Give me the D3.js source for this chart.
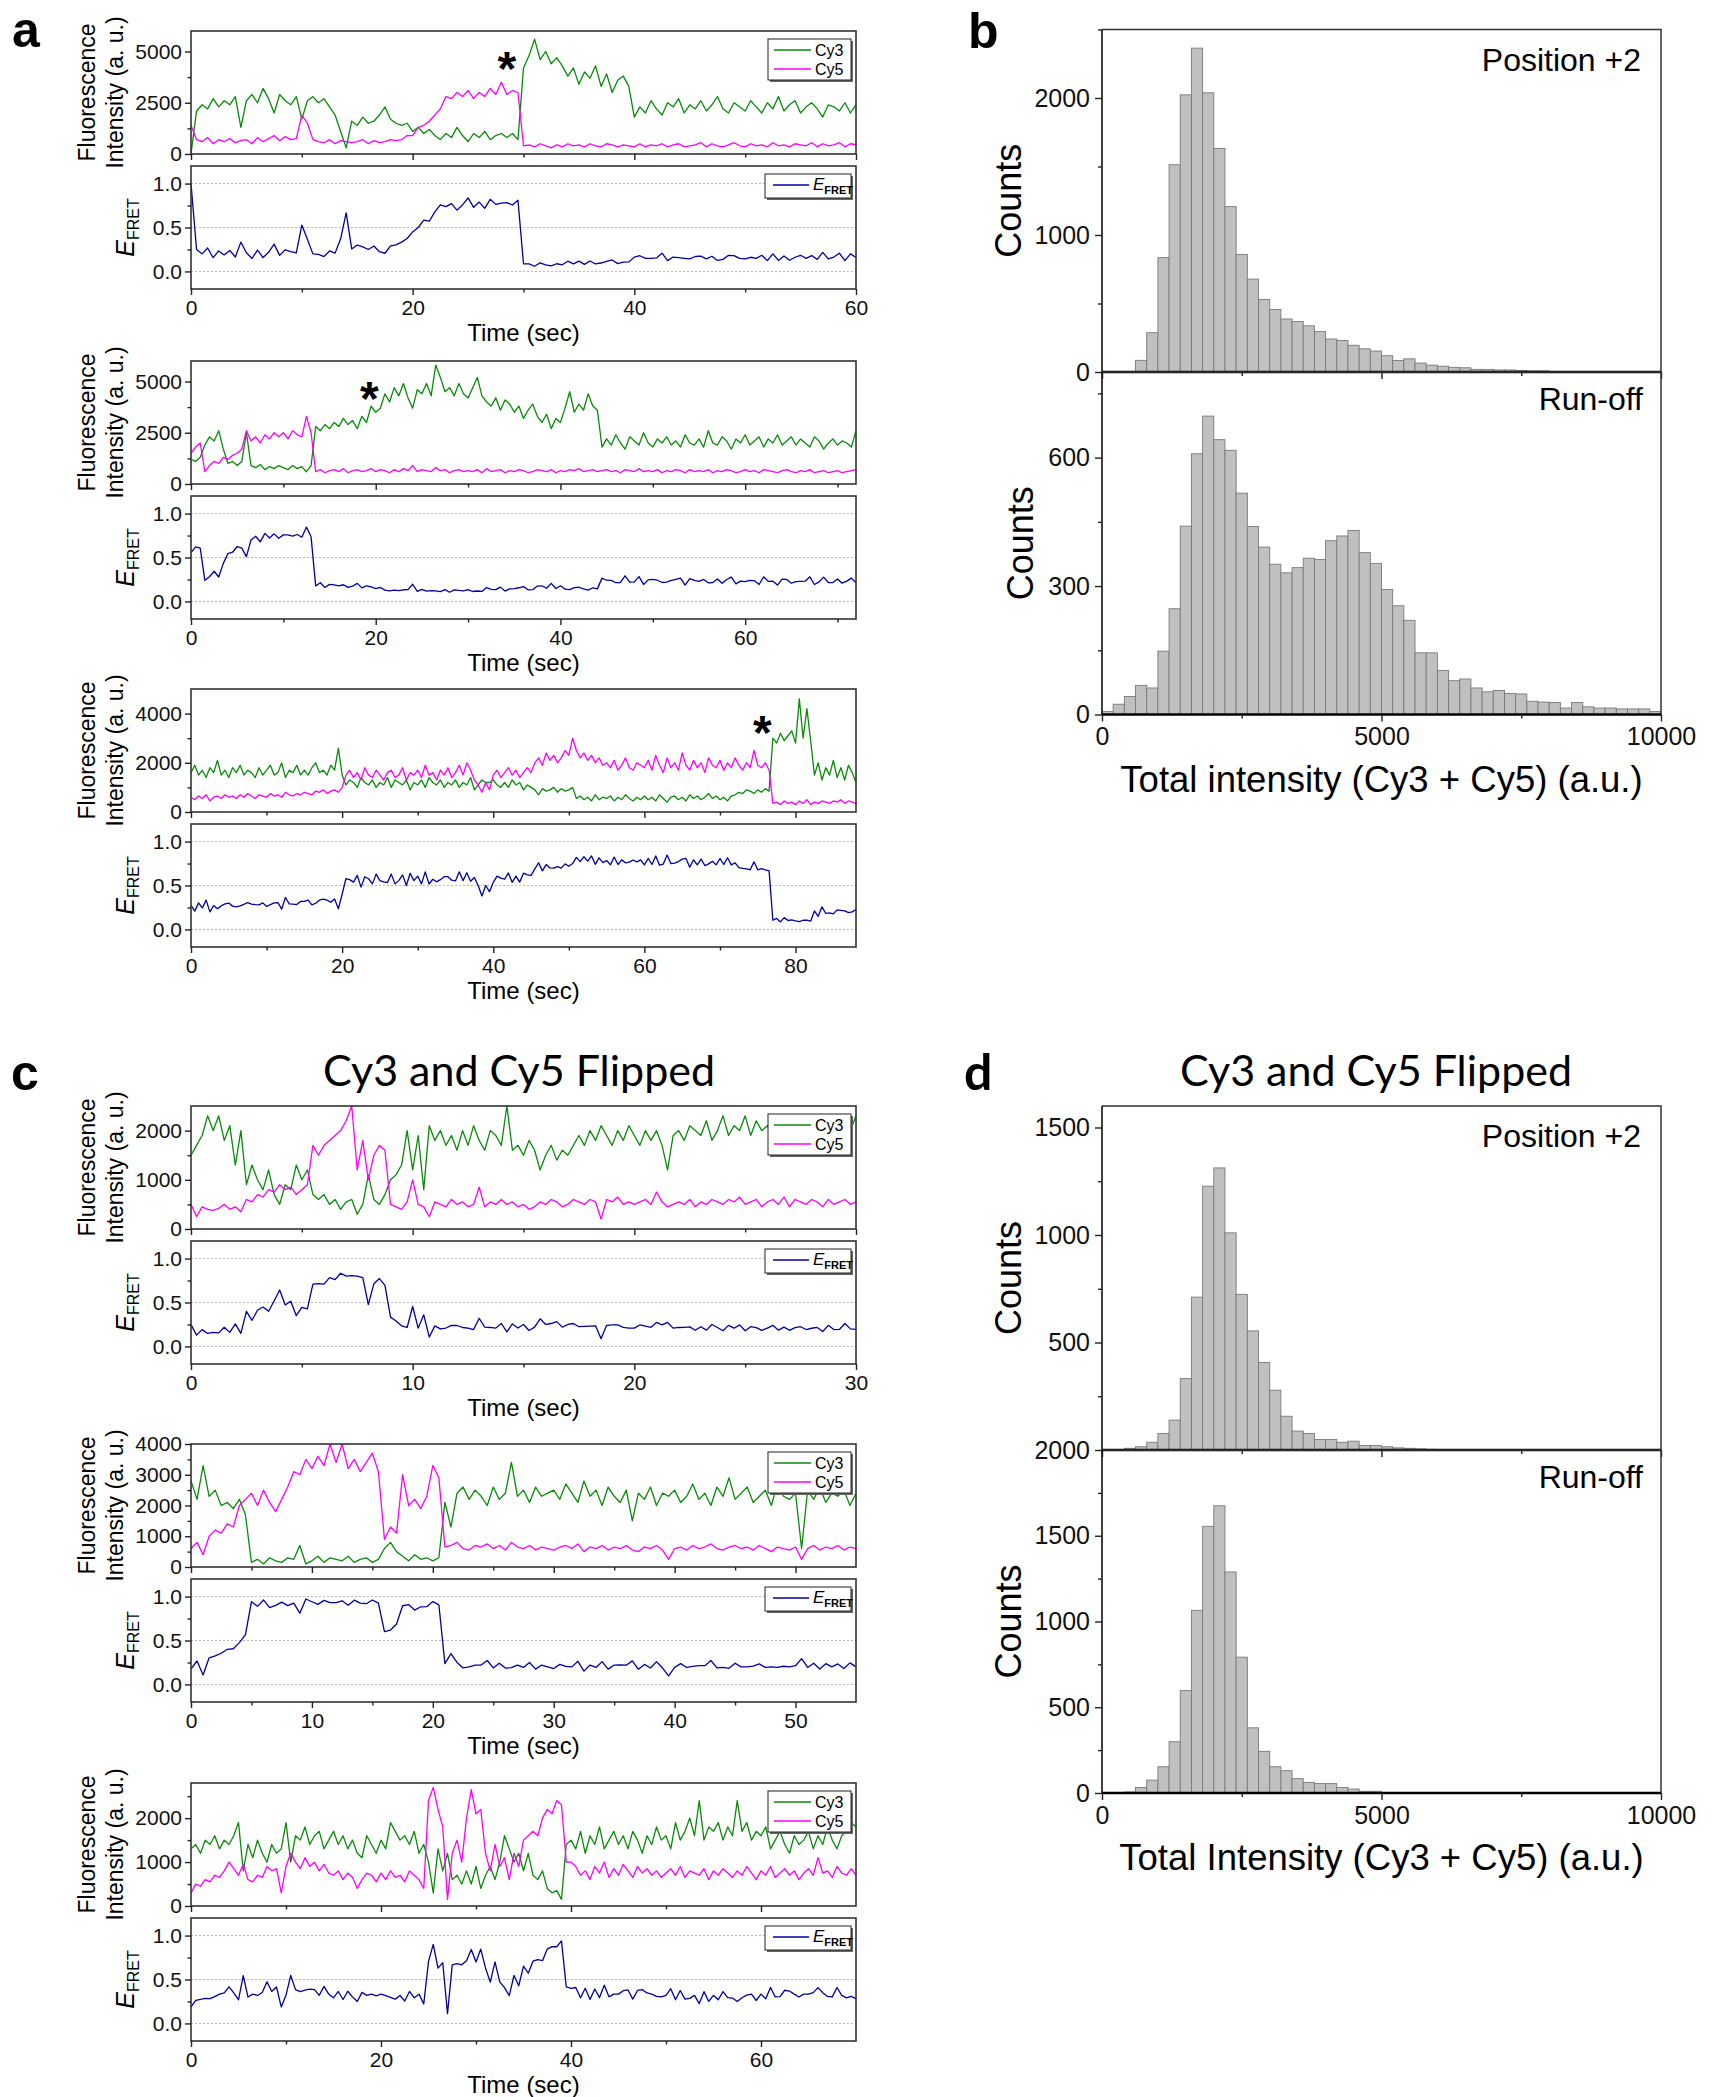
<!DOCTYPE html>
<html>
<head>
<meta charset="utf-8">
<style>
  body { margin: 0; background: #fff; }
  svg { display: block; }
</style>
</head>
<body>
<svg id="fig" width="1715" height="2097"></svg>
<script src="https://cdn.jsdelivr.net/npm/d3@7"></script>
<script>
// ---- single-molecule traces, intensity (a.u.) per frame ----
var a1Step = 0.5;
var a1Cy3 = [0,2100,2400,2200,2700,2300,2600,2400,2800,1300,
  2600,2900,2500,3200,2700,2000,2900,2600,2400,2800,
  1700,2600,2800,2500,2700,2300,1900,1100,300,1600,
  1400,1800,1500,1600,1900,2300,1700,1500,1400,1500,
  1100,1300,1000,1200,900,700,1000,800,1300,900,
  600,1000,800,1100,700,900,1000,800,1000,700,
  4200,4800,5600,4600,5000,4400,4700,4300,3800,4200,
  3400,4000,3700,4300,3300,3900,3000,3600,3800,3300,
  1800,2300,2000,2600,2200,1900,2500,2300,2700,2000,
  2400,2200,2600,2100,2400,2800,2200,2000,2500,2300,
  2100,2600,2300,2000,2500,2200,2800,2100,2400,2600,
  2000,2300,2500,2200,1800,2400,2300,2100,2500,2000,
  2400];
var a1Cy5 = [1400,700,600,800,500,700,600,750,550,650,
  700,500,800,600,750,900,650,850,700,750,
  1900,1500,700,600,550,700,500,650,600,550,
  600,700,500,650,550,600,700,650,700,900,
  900,1300,1400,1600,1900,2200,2800,2700,3000,2800,
  3100,2700,3000,2800,3200,2900,3500,2900,3100,3000,
  400,450,350,500,400,300,450,350,500,400,
  450,350,500,400,350,500,450,350,450,400,
  350,500,350,450,400,500,350,450,500,350,
  400,450,550,350,500,400,350,450,550,400,
  350,500,400,450,350,550,400,450,350,500,
  450,400,550,350,500,400,450,550,350,500,
  450];

var a2Step = 0.5;
var a2Cy3 = [1200,1100,1300,1900,2300,2100,2600,1700,1000,1100,
  900,1100,2500,900,800,950,700,850,750,900,
  800,700,900,750,850,600,900,2800,2600,2900,
  2700,3000,2800,3200,2900,3100,2700,3300,3000,3800,
  3500,3700,4400,4000,4700,4300,4900,4200,3700,4600,
  4400,4900,4300,5800,5200,4500,4700,4300,4900,4400,
  4200,4700,5200,4300,4000,3800,4200,3600,4100,3900,
  3500,3800,3200,3600,3900,3300,3000,3400,2700,3200,
  3000,3700,4500,3500,3900,3600,4400,3800,3600,1800,
  2200,1900,2400,2000,1700,2300,2100,1900,2500,2000,
  1800,2200,2000,2300,1900,2100,1800,2400,2000,1900,
  2200,1800,2600,2000,1900,2300,2100,1700,2200,2000,
  2400,1900,2100,2300,1800,2200,2000,2400,1900,2100,
  2300,1900,2200,2000,1800,2300,2100,1700,2000,2200,
  1900,2100,2000,1800,2600];
var a2Cy5 = [1500,1800,2000,600,900,1100,1000,1300,1200,1400,
  1500,1700,2600,2100,2300,2000,2400,2200,2500,2300,
  2500,2200,2600,2400,2300,3300,2500,600,700,550,
  650,700,600,750,550,650,700,600,650,750,
  600,700,650,550,700,600,750,650,900,600,
  700,650,600,800,650,700,550,650,700,600,
  650,600,700,550,750,600,650,700,550,650,
  600,700,650,550,600,700,650,600,700,550,
  650,600,700,650,750,600,650,700,600,650,
  700,600,650,550,700,650,600,750,600,650,
  600,700,550,650,600,700,650,550,700,600,
  650,600,700,550,650,600,700,650,550,600,
  700,600,650,550,700,650,600,550,650,700,
  600,550,650,600,700,550,600,650,550,600,
  650,550,600,650,700];

var a3Step = 0.5;
var a3Cy3 = [1600,1900,1500,1700,1400,1800,1600,2100,1500,1700,
  1400,1800,1600,1900,1500,1700,1600,1400,1800,1500,
  1700,1900,1500,1600,2000,1400,1700,1600,1900,1500,
  1700,1500,1800,2000,1600,1700,1500,1900,1700,2600,
  1500,1100,1300,1200,1000,1400,1200,1100,1300,1000,
  1200,1100,1400,1000,1300,1200,1100,1300,900,1200,
  1100,1300,1000,1400,1200,1100,1300,1000,1200,1100,
  1300,1000,1200,1100,1400,900,1100,1300,1200,1200,
  1300,1100,1000,1200,1000,1300,1100,1200,900,1100,
  1000,900,700,950,850,900,1000,800,950,850,
  900,1000,550,650,500,600,450,700,500,600,
  550,650,450,600,500,700,550,450,600,500,
  650,500,600,450,700,550,400,600,650,500,
  600,450,700,550,650,500,600,750,550,650,
  500,600,450,650,700,800,750,900,850,750,
  900,800,950,850,3000,2800,3200,2900,3100,3300,
  2800,4600,3000,4200,2900,1500,2000,1300,1800,1500,
  2100,1400,1800,1300,1900,1600,1200];
var a3Cy5 = [600,500,650,550,700,450,600,650,550,700,
  600,650,550,700,600,750,650,550,700,650,
  600,750,650,700,600,800,700,650,750,700,
  800,750,700,850,800,900,750,850,900,800,
  1000,1500,1700,1400,1600,1300,1800,1500,1400,1700,
  1500,1300,1600,1700,1400,1500,1800,1300,1600,1500,
  1700,1400,1900,1500,1600,1300,1700,1500,1800,1400,
  1600,1900,1500,2000,1700,1300,1100,800,1200,900,
  1500,1700,1400,1600,1800,1500,1700,1400,1600,1800,
  1600,2000,2200,1900,2400,2100,2300,2000,2200,2500,
  2300,3000,2500,2200,2400,2100,2300,2000,2200,1900,
  2000,1800,2100,1700,1900,2200,1800,1700,2000,1900,
  1800,2100,1700,2300,1900,1600,2200,1800,2000,1700,
  2400,1900,1700,2100,1800,2000,1600,2200,1900,1800,
  2100,1700,2000,1800,2200,1900,1700,2000,1800,2500,
  1900,1800,2000,1700,350,400,300,450,350,400,
  300,450,350,500,300,400,350,450,400,350,
  450,400,500,350,450,400,350];

var c1Step = 0.25;
var c1Cy3 = [1500,1700,1900,2300,2000,2300,1800,2100,
  1300,2000,900,1300,1000,800,1200,700,
  500,900,800,1300,1000,1200,700,600,
  700,500,600,400,550,600,300,500,
  1100,600,500,700,1000,1100,1300,2000,
  1200,1900,800,2100,1800,2000,1700,1900,
  1600,2000,1700,2100,1800,1600,2000,1900,
  1700,2500,1600,1700,1500,1800,1600,1200,
  1500,1700,1400,1600,1500,1700,1900,1700,
  2000,1800,2100,1900,1700,2000,1800,2100,
  1900,1700,2000,1800,2000,1700,1200,1900,
  2000,1800,2100,2000,1900,2200,1800,2000,
  2300,1900,2100,2000,2300,1900,2200,2000,
  2100,1900,2200,2300,2000,2200,1900,2100,
  2300,2000,2200,1900,2100,2300,1700,2000,
  2300];
var c1Cy5 = [500,250,450,400,380,420,500,400,
  450,350,600,550,700,650,800,750,
  900,800,850,700,800,900,1700,1500,
  1700,1800,1900,2000,2200,2500,1200,1800,
  1000,1500,1700,1600,500,450,400,550,
  1000,500,450,250,550,500,450,600,
  500,550,450,500,850,450,550,500,
  600,500,550,450,500,400,450,550,
  500,600,550,450,500,600,550,500,
  600,550,200,600,550,650,500,550,
  500,550,600,500,750,550,450,500,
  550,500,600,450,550,500,600,550,
  500,600,550,650,500,550,600,450,
  550,600,500,650,450,600,550,500,
  600,550,450,600,500,550,600,500,
  550];

var c2Step = 0.5;
var c2Cy3 = [2800,2200,3300,2300,2500,2000,2100,1900,2200,1700,
  150,250,100,300,200,150,300,250,700,100,
  200,350,150,300,250,200,350,150,250,300,
  150,250,600,800,500,350,200,400,250,300,
  200,300,2100,1300,2400,2600,2200,2500,2300,2000,
  2600,2200,2400,3400,2300,2500,2100,2600,2300,2400,
  2500,2200,2700,2400,2100,2800,2300,2500,2000,2600,
  2300,2100,2500,1500,2400,2200,2600,2000,2400,2300,
  2500,2100,2300,2700,2200,2400,2000,2600,2300,2900,
  2200,2400,2600,2100,2300,2500,2000,2700,2300,2200,
  2400,600,2500,2200,2600,2100,2400,2300,2500,2000,
  2400];
var c2Cy5 = [600,800,400,1000,1200,1100,1400,1300,2000,2200,
  2400,2000,2500,2100,1800,2200,2600,3100,3000,3500,
  3200,3600,3300,4000,3400,4000,3200,3500,3100,3400,
  3700,3100,900,1300,1100,3000,2000,2200,1900,2300,
  3300,2900,650,700,800,600,550,700,650,750,
  600,700,550,800,650,600,700,550,650,600,
  550,650,700,600,750,500,650,600,700,550,
  650,600,700,550,500,650,600,700,550,250,
  600,650,550,700,600,650,750,600,550,650,
  700,600,650,550,700,600,500,650,600,550,
  650,250,600,700,550,650,600,700,550,650,
  600];

var c3Step = 0.5;
var c3Cy3 = [1300,1400,1200,1500,1400,1600,1300,1500,1400,1600,
  1900,800,1400,1100,1500,1200,1000,1400,1200,1300,
  1900,1000,1600,1500,1800,1400,1600,1700,1300,1500,
  1700,1400,1600,1300,1500,1200,1100,1600,1400,1200,
  1500,1300,1900,1700,1500,1600,1400,1700,1200,1400,
  1000,300,1300,800,1200,600,700,500,800,500,
  900,400,700,900,600,1000,1600,1300,1000,1200,
  800,1200,700,600,800,400,300,350,150,1400,
  1500,1300,1700,1200,1600,1400,1800,1300,1500,1700,
  1400,1600,1300,1700,1500,1200,1600,1400,1800,1500,
  1600,1300,1900,1500,1700,2000,1600,2400,1500,1800,
  1700,1900,1500,1800,1600,2400,1700,1900,1500,1700,
  1600,1800,1300,1500,1700,1400,1200,1600,1400,1500,
  1700,1300,1600,1400,1800,1500,1300,1600,1700,1900,
  1800];
var c3Cy5 = [300,500,450,600,550,700,650,800,1000,850,
  700,950,600,550,700,650,900,800,850,300,
  900,1200,1000,850,1100,900,1000,800,950,750,
  700,800,600,750,650,400,600,750,700,550,
  750,600,800,650,700,550,800,700,600,400,
  2400,2700,2200,1800,150,1200,1500,1000,2000,2650,
  2100,2200,1200,800,1400,900,1100,600,1200,900,
  1500,1600,1700,1600,2000,2200,2100,2400,2300,1000,
  1000,900,700,800,600,900,750,1000,650,850,
  700,950,800,650,900,750,850,700,800,650,
  750,850,700,900,650,800,750,700,850,600,
  800,700,850,750,650,800,700,900,750,600,
  800,700,900,650,750,850,700,800,600,750,
  850,700,1100,750,800,650,900,750,700,850,
  700];

// ---- axis ticks of the traces ----
var a1TimeTicks = [0, 20, 40, 60], a1TimeMinor = [10, 30, 50];
var a2TimeTicks = [0, 20, 40, 60], a2TimeMinor = [10, 30, 50, 70];
var a3TimeTicks = [0, 20, 40, 60, 80], a3TimeMinor = [10, 30, 50, 70];
var c1TimeTicks = [0, 10, 20, 30], c1TimeMinor = [5, 15, 25];
var c2TimeTicks = [0, 10, 20, 30, 40, 50], c2TimeMinor = [5, 15, 25, 35, 45];
var c3TimeTicks = [0, 20, 40, 60], c3TimeMinor = [10, 30, 50];
var a1IntTicks = [0, 2500, 5000], a1IntMinor = [1250, 3750];
var a3IntTicks = [0, 2000, 4000], a3IntMinor = [1000, 3000];
var c1IntTicks = [0, 1000, 2000], c1IntMinor = [500, 1500];
var c2IntTicks = [0, 1000, 2000, 3000, 4000], c2IntMinor = [500, 1500, 2500, 3500];
var c3IntTicks = [0, 1000, 2000], c3IntMinor = [500, 1500, 2500];
var fretTicks = [0, 0.5, 1.0], fretMinor = [0.25, 0.75];

// asterisks (time, intensity) on the a traces
var starTime = [28.5, 19.3, 75.6];
var starValue = [4700, 4700, 3650];

// ---- histograms of total intensity, 200 a.u. bins starting at 0 ----
var binWidth = 200;
var bPos2 = [0,0,0,85,287,835,1513,2023,2364,2038,
  1632,1207,858,678,529,456,387,368,337,295,
  241,230,195,169,153,119,84,96,65,50,
  42,34,31,19,19,15,15,11,8,8,
  4,3,2,2,1,0,0,0,0,0];
var bRunoff = [7,24,42,68,62,148,247,440,609,697,
  642,617,517,439,391,351,331,343,365,362,
  406,417,430,378,353,292,254,220,144,144,
  103,79,83,62,53,56,49,48,31,29,
  28,15,28,18,15,15,13,13,13,7];
var dPos2 = [0,0,8,15,36,77,139,332,711,1227,
  1312,1010,724,554,407,278,157,88,77,49,
  49,36,41,21,21,15,10,8,5,3];
var dRunoff = [0,0,6,32,75,153,299,597,1065,1555,
  1675,1289,792,380,243,153,130,84,62,55,
  55,32,23,10,10,3,3];
var histXTicks = [0, 5000, 10000], histXMinor = [2500, 7500];
var bPosTicks = [0, 1000, 2000], bPosMinor = [500, 1500, 2500];
var bRunTicks = [0, 300, 600], bRunMinor = [150, 450, 750];
var dPosTicks = [500, 1000, 1500], dPosMinor = [250, 750, 1250];
var dRunTicks = [0, 500, 1000, 1500, 2000], dRunMinor = [250, 750, 1250, 1750];

var FONT = "'Liberation Sans', Arial, Helvetica, sans-serif";
var TITLE_FONT = "Lato, 'Open Sans', sans-serif";
var svg = d3.select("#fig").style("font-family", FONT);
var defs = svg.append("defs");

var GREEN = "#0a8a0a", MAGENTA = "#ff00ff", NAVY = "#0000a0";

function styleAxis(sel, fs) {
  sel.select(".domain").remove();
  sel.selectAll(".tick line").attr("stroke", "#222").attr("stroke-width", 1.4);
  sel.selectAll(".tick text").attr("font-size", fs).attr("font-family", FONT).attr("fill", "#111");
}

// ---------- trace panels ----------
var L = 191, R = 856;
var traces = [
  {id: "a1", top: 31, step: a1Step, cy3: a1Cy3, cy5: a1Cy5, xMax: 60, yMax: 6000,
   xT: a1TimeTicks, xM: a1TimeMinor, yT: a1IntTicks, yM: a1IntMinor, legend: true, star: 0},
  {id: "a2", top: 361, step: a2Step, cy3: a2Cy3, cy5: a2Cy5, xMax: 72, yMax: 6000,
   xT: a2TimeTicks, xM: a2TimeMinor, yT: a1IntTicks, yM: a1IntMinor, legend: false, star: 1},
  {id: "a3", top: 689, step: a3Step, cy3: a3Cy3, cy5: a3Cy5, xMax: 88, yMax: 5000,
   xT: a3TimeTicks, xM: a3TimeMinor, yT: a3IntTicks, yM: a3IntMinor, legend: false, star: 2},
  {id: "c1", top: 1106, step: c1Step, cy3: c1Cy3, cy5: c1Cy5, xMax: 30, yMax: 2500,
   xT: c1TimeTicks, xM: c1TimeMinor, yT: c1IntTicks, yM: c1IntMinor, legend: true, star: -1},
  {id: "c2", top: 1444, step: c2Step, cy3: c2Cy3, cy5: c2Cy5, xMax: 55, yMax: 4000,
   xT: c2TimeTicks, xM: c2TimeMinor, yT: c2IntTicks, yM: c2IntMinor, legend: true, star: -1},
  {id: "c3", top: 1783, step: c3Step, cy3: c3Cy3, cy5: c3Cy5, xMax: 70, yMax: 2800,
   xT: c3TimeTicks, xM: c3TimeMinor, yT: c3IntTicks, yM: c3IntMinor, legend: true, star: -1}
];

function legendFrame(g, x0, y0, w, h) {
  g.append("rect").attr("x", x0 + 2).attr("y", y0 + 2).attr("width", w).attr("height", h).attr("fill", "#666");
  g.append("rect").attr("x", x0).attr("y", y0).attr("width", w).attr("height", h)
    .attr("fill", "#fff").attr("stroke", "#222").attr("stroke-width", 1);
}

function drawTrace(p) {
  var iTop = p.top, iBot = p.top + 123, eTop = p.top + 135, eBot = p.top + 258;
  var x = d3.scaleLinear().domain([0, p.xMax]).range([L, R]);
  var yI = d3.scaleLinear().domain([0, p.yMax]).range([iBot, iTop]);
  var yE = d3.scaleLinear().domain([-0.2, 1.2]).range([eBot, eTop]);
  var g = svg.append("g");

  defs.append("clipPath").attr("id", p.id + "i").append("rect")
    .attr("x", L).attr("y", iTop).attr("width", R - L).attr("height", iBot - iTop);
  defs.append("clipPath").attr("id", p.id + "e").append("rect")
    .attr("x", L).attr("y", eTop).attr("width", R - L).attr("height", eBot - eTop);

  // dotted grid in the FRET box
  g.selectAll("line.grid").data(fretTicks).enter().append("line").attr("class", "grid")
    .attr("x1", L).attr("x2", R).attr("y1", function(d) { return yE(d); }).attr("y2", function(d) { return yE(d); })
    .attr("stroke", "#b8b8b8").attr("stroke-width", 1).attr("stroke-dasharray", "2,2");

  var lineI = d3.line().x(function(d, i) { return x(i * p.step); }).y(function(d) { return yI(d); });
  var lineE = d3.line().x(function(d, i) { return x(i * p.step); }).y(function(d) { return yE(d); });
  var fret = p.cy3.map(function(d, i) { return p.cy5[i] / (d + p.cy5[i]); });

  g.append("path").datum(p.cy3).attr("d", lineI).attr("clip-path", "url(#" + p.id + "i)")
    .attr("fill", "none").attr("stroke", GREEN).attr("stroke-width", 1.3).attr("stroke-linejoin", "round");
  g.append("path").datum(p.cy5).attr("d", lineI).attr("clip-path", "url(#" + p.id + "i)")
    .attr("fill", "none").attr("stroke", MAGENTA).attr("stroke-width", 1.3).attr("stroke-linejoin", "round");
  g.append("path").datum(fret).attr("d", lineE).attr("clip-path", "url(#" + p.id + "e)")
    .attr("fill", "none").attr("stroke", NAVY).attr("stroke-width", 1.3).attr("stroke-linejoin", "round");

  // boxes
  [[iTop, iBot], [eTop, eBot]].forEach(function(b) {
    g.append("rect").attr("x", L).attr("y", b[0]).attr("width", R - L).attr("height", b[1] - b[0])
      .attr("fill", "none").attr("stroke", "#333").attr("stroke-width", 1.6);
  });

  // intensity axes
  g.append("g").attr("transform", "translate(" + L + ",0)")
    .call(d3.axisLeft(yI).tickValues(p.yT).tickSize(6).tickPadding(3).tickFormat(d3.format("d")))
    .call(styleAxis, 21);
  g.append("g").attr("transform", "translate(" + L + ",0)")
    .call(d3.axisLeft(yI).tickValues(p.yM).tickSize(3.5).tickFormat(""))
    .call(styleAxis, 21);
  g.append("g").attr("transform", "translate(0," + iBot + ")")
    .call(d3.axisBottom(x).tickValues(p.xT).tickSize(6).tickFormat(""))
    .call(styleAxis, 21);
  g.append("g").attr("transform", "translate(0," + iBot + ")")
    .call(d3.axisBottom(x).tickValues(p.xM).tickSize(3.5).tickFormat(""))
    .call(styleAxis, 21);

  // FRET axes
  g.append("g").attr("transform", "translate(" + L + ",0)")
    .call(d3.axisLeft(yE).tickValues(fretTicks).tickSize(6).tickPadding(3).tickFormat(d3.format(".1f")))
    .call(styleAxis, 21);
  g.append("g").attr("transform", "translate(" + L + ",0)")
    .call(d3.axisLeft(yE).tickValues(fretMinor).tickSize(3.5).tickFormat(""))
    .call(styleAxis, 21);
  g.append("g").attr("transform", "translate(0," + eBot + ")")
    .call(d3.axisBottom(x).tickValues(p.xT).tickSize(6).tickPadding(5).tickFormat(d3.format("d")))
    .call(styleAxis, 21);
  g.append("g").attr("transform", "translate(0," + eBot + ")")
    .call(d3.axisBottom(x).tickValues(p.xM).tickSize(3.5).tickFormat(""))
    .call(styleAxis, 21);

  // axis titles
  var iMid = (iTop + iBot) / 2, eMid = (eTop + eBot) / 2;
  g.append("text").attr("transform", "translate(95," + iMid + ") rotate(-90)")
    .attr("text-anchor", "middle").attr("font-size", 23).text("Fluorescence");
  g.append("text").attr("transform", "translate(123," + iMid + ") rotate(-90)")
    .attr("text-anchor", "middle").attr("font-size", 23).text("Intensity (a. u.)");
  var et = g.append("text").attr("transform", "translate(134," + eMid + ") rotate(-90)")
    .attr("text-anchor", "middle").attr("font-size", 25);
  et.append("tspan").attr("font-style", "italic").text("E");
  et.append("tspan").attr("font-size", 16).attr("dy", 5).text("FRET");
  g.append("text").attr("x", (L + R) / 2).attr("y", p.top + 310)
    .attr("text-anchor", "middle").attr("font-size", 24).text("Time (sec)");

  if (p.legend) {
    var lx = R - 88, ly = iTop + 8;
    legendFrame(g, lx, ly, 83, 41);
    [["Cy3", GREEN], ["Cy5", MAGENTA]].forEach(function(s, k) {
      var yy = ly + 11 + k * 19;
      g.append("line").attr("x1", lx + 6).attr("x2", lx + 43).attr("y1", yy).attr("y2", yy)
        .attr("stroke", s[1]).attr("stroke-width", 1.6);
      g.append("text").attr("x", lx + 47).attr("y", yy + 6).attr("font-size", 16).text(s[0]);
    });
    var fx = R - 91, fy = eTop + 8;
    legendFrame(g, fx, fy, 86, 24);
    g.append("line").attr("x1", fx + 8).attr("x2", fx + 44).attr("y1", fy + 11).attr("y2", fy + 11)
      .attr("stroke", NAVY).attr("stroke-width", 1.6);
    var lt = g.append("text").attr("x", fx + 48).attr("y", fy + 16).attr("font-size", 17);
    lt.append("tspan").attr("font-style", "italic").text("E");
    lt.append("tspan").attr("font-size", 11).attr("font-weight", "bold").attr("dy", 4).text("FRET");
  }

  if (p.star >= 0) {
    g.append("text").attr("x", x(starTime[p.star])).attr("y", yI(starValue[p.star]) + 27)
      .attr("text-anchor", "middle").attr("font-size", 48).attr("font-weight", "bold").text("*");
  }
}
traces.forEach(drawTrace);

// ---------- histogram panels ----------
var HL = 1102, HR = 1661;
var hx = d3.scaleLinear().domain([0, 10000]).range([HL, HR]);

function drawHist(h) {
  var y = d3.scaleLinear().domain([0, h.yMax]).range([h.bottom, h.top]);
  var g = svg.append("g");
  var bins = h.counts.map(function(c, i) { return {x0: i * binWidth, c: c}; })
    .filter(function(d) { return d.c > 0; });
  g.selectAll("rect.bar").data(bins).enter().append("rect").attr("class", "bar")
    .attr("x", function(d) { return hx(d.x0); })
    .attr("width", hx(binWidth) - hx(0))
    .attr("y", function(d) { return y(d.c); })
    .attr("height", function(d) { return y(0) - y(d.c); })
    .attr("fill", "#c0c0c0").attr("stroke", "#7a7a7a").attr("stroke-width", 0.9);

  // right + top border
  g.append("path").attr("d", "M" + HL + "," + h.top + "H" + HR + "V" + h.bottom)
    .attr("fill", "none").attr("stroke", "#333").attr("stroke-width", 1.5);
  g.append("line").attr("x1", HL).attr("x2", HL).attr("y1", h.top).attr("y2", h.bottom)
    .attr("stroke", "#111").attr("stroke-width", 1.6);
  g.append("line").attr("x1", HL).attr("x2", HR).attr("y1", h.bottom).attr("y2", h.bottom)
    .attr("stroke", "#000").attr("stroke-width", 2.4);

  g.append("g").attr("transform", "translate(" + HL + ",0)")
    .call(d3.axisLeft(y).tickValues(h.ticks).tickSize(7).tickPadding(5).tickFormat(d3.format("d")))
    .call(styleAxis, 25);
  g.append("g").attr("transform", "translate(" + HL + ",0)")
    .call(d3.axisLeft(y).tickValues(h.minor).tickSize(4).tickFormat(""))
    .call(styleAxis, 25);
  g.append("g").attr("transform", "translate(0," + h.bottom + ")")
    .call(d3.axisBottom(hx).tickValues(histXTicks).tickSize(7).tickPadding(6)
      .tickFormat(h.xLabels ? d3.format("d") : ""))
    .call(styleAxis, 25);
  g.append("g").attr("transform", "translate(0," + h.bottom + ")")
    .call(d3.axisBottom(hx).tickValues(histXMinor).tickSize(4).tickFormat(""))
    .call(styleAxis, 25);

  g.append("text").attr("transform", "translate(" + h.countsX + "," + (h.top + h.bottom) / 2 + ") rotate(-90)")
    .attr("text-anchor", "middle").attr("font-size", 36).text("Counts");
  g.append("text").attr("x", h.tagX).attr("y", h.top + h.tagDy)
    .attr("text-anchor", "end").attr("font-size", 32).text(h.tag);
}

drawHist({counts: bPos2, yMax: 2500, top: 29.5, bottom: 372, ticks: bPosTicks, minor: bPosMinor,
  xLabels: false, countsX: 1021, tag: "Position +2", tagX: 1641, tagDy: 41});
drawHist({counts: bRunoff, yMax: 800, top: 372, bottom: 714.5, ticks: bRunTicks, minor: bRunMinor,
  xLabels: true, countsX: 1033, tag: "Run-off", tagX: 1643, tagDy: 38});
drawHist({counts: dPos2, yMax: 1600, top: 1106, bottom: 1450, ticks: dPosTicks, minor: dPosMinor,
  xLabels: false, countsX: 1021, tag: "Position +2", tagX: 1641, tagDy: 41});
drawHist({counts: dRunoff, yMax: 2000, top: 1450, bottom: 1793, ticks: dRunTicks, minor: dRunMinor,
  xLabels: true, countsX: 1021, tag: "Run-off", tagX: 1643, tagDy: 38});

svg.append("text").attr("x", (HL + HR) / 2).attr("y", 792).attr("text-anchor", "middle")
  .attr("font-size", 36.5).text("Total intensity (Cy3 + Cy5) (a.u.)");
svg.append("text").attr("x", (HL + HR) / 2).attr("y", 1870).attr("text-anchor", "middle")
  .attr("font-size", 36.5).text("Total Intensity (Cy3 + Cy5) (a.u.)");

// ---------- titles and panel letters ----------
svg.append("text").attr("x", 519).attr("y", 1086).attr("text-anchor", "middle")
  .attr("font-family", TITLE_FONT).attr("font-size", 43).text("Cy3 and Cy5 Flipped");
svg.append("text").attr("x", 1376).attr("y", 1086).attr("text-anchor", "middle")
  .attr("font-family", TITLE_FONT).attr("font-size", 43).text("Cy3 and Cy5 Flipped");

[["a", 12, 47, FONT], ["b", 968, 48, FONT], ["c", 11, 1090, FONT], ["d", 964, 1090, TITLE_FONT]].forEach(function(l) {
  svg.append("text").attr("x", l[1]).attr("y", l[2]).attr("font-family", l[3])
    .attr("font-size", 50).attr("font-weight", "bold").text(l[0]);
});
</script>
</body>
</html>
